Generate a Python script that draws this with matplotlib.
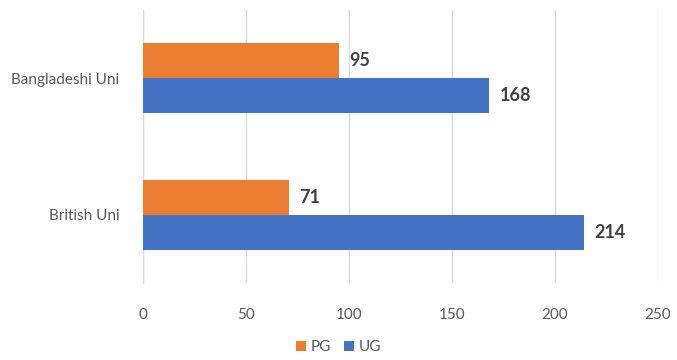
import matplotlib
matplotlib.use("Agg")
import matplotlib.pyplot as plt
import numpy as np

categories = ["British Uni", "Bangladeshi Uni"]
pg_values = [71, 95]
ug_values = [214, 168]
series_names = ["PG", "UG"]
x_ticks = [0, 50, 100, 150, 200, 250]

plt.rcParams["font.family"] = ["Lato", "DejaVu Sans"]

fig = plt.figure(figsize=(6.77, 3.6), dpi=100)
ax = fig.add_axes([0.2112, 0.214, 0.7608, 0.758])

y = np.arange(len(categories))
h = 0.257
orange = "#ED7D31"
blue = "#4472C4"

b_pg = ax.barh(y + h / 2, pg_values, height=h, color=orange, label=series_names[0], zorder=3)
b_ug = ax.barh(y - h / 2, ug_values, height=h, color=blue, label=series_names[1], zorder=3)

for bars, vals in ((b_pg, pg_values), (b_ug, ug_values)):
    for bar, v in zip(bars, vals):
        ax.text(v + 5, bar.get_y() + bar.get_height() / 2, str(v),
                va="center", ha="left", fontsize=13, fontweight="bold", color="#404040")

ax.set_xlim(0, 250)
ax.set_ylim(-0.5, 1.5)
ax.set_xticks(x_ticks)
ax.set_xticklabels([str(t) for t in x_ticks])
ax.set_yticks(y)
ax.set_yticklabels(categories)
ax.tick_params(axis="x", length=0, pad=18, labelsize=11, labelcolor="#595959")
ax.tick_params(axis="y", length=0, pad=17, labelsize=11, labelcolor="#595959")
ax.grid(axis="x", color="#D9D9D9", linewidth=1, zorder=0)
for side in ("top", "right", "bottom"):
    ax.spines[side].set_visible(False)
ax.spines["left"].set_color("#D9D9D9")

leg = fig.legend(handles=[b_pg, b_ug], loc="center", bbox_to_anchor=(0.5, 0.035),
                 ncol=2, frameon=False, fontsize=11, handlelength=0.7, handleheight=0.7,
                 handletextpad=0.3, columnspacing=0.8)
for t in leg.get_texts():
    t.set_color("#595959")

fig.savefig("out.png", dpi=100)
